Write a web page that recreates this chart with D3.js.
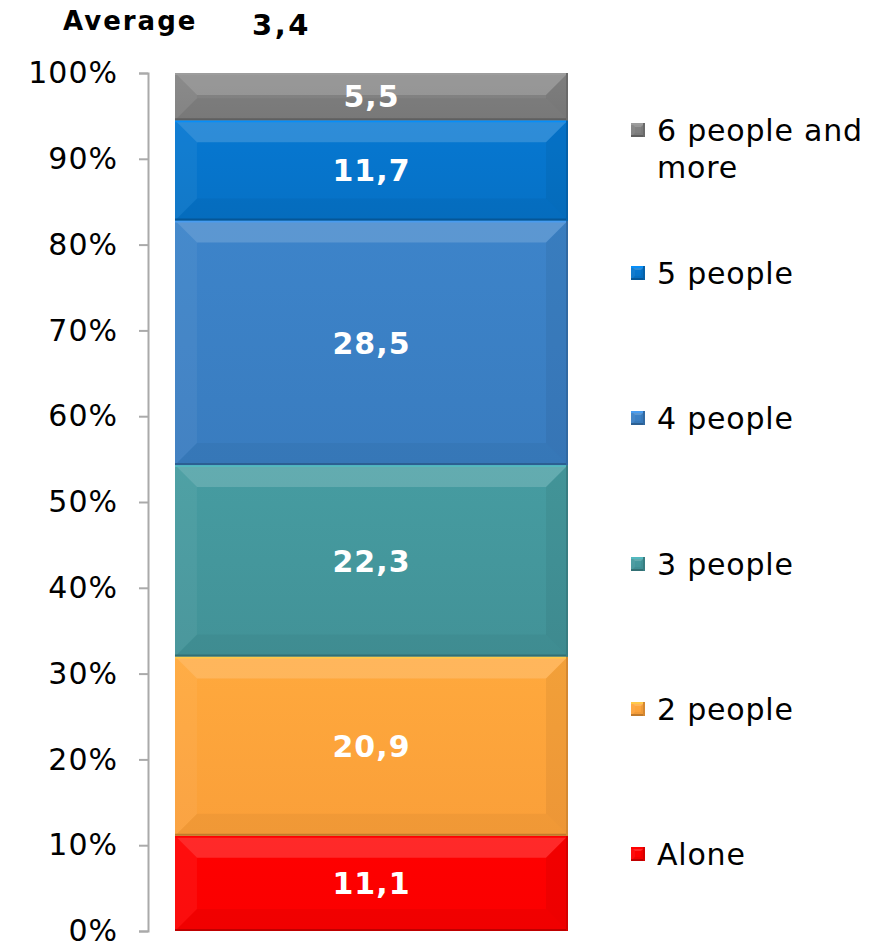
<!DOCTYPE html>
<html>
<head>
<meta charset="utf-8">
<script src="https://cdn.jsdelivr.net/npm/d3@7"></script>
<style>
  body { margin: 0; background: #fff; }
  text { font-family: "DejaVu Sans", Verdana, sans-serif; }
</style>
</head>
<body>
<svg width="892" height="947"></svg>
<script>
// data
const categories = ["Alone", "2 people", "3 people", "4 people", "5 people", "6 people and more"];
const values = [11.1, 20.9, 22.3, 28.5, 11.7, 5.5];
const yTicks = [0, 10, 20, 30, 40, 50, 60, 70, 80, 90, 100];
const averageLabel = "Average";
const averageValue = "3,4";

const colors = ["#fe0000", "#ffa23a", "#43959a", "#3a7ec2", "#0673c9", "#7f7f7f"];

const svg = d3.select("svg"),
      margin = {top: 73, right: 20, bottom: 16, left: 148},
      height = +svg.attr("height") - margin.top - margin.bottom;

const chartArea = svg.append("g")
                     .attr("transform", `translate(${margin.left},${margin.top})`);

const y = d3.scaleLinear().domain([0, 100]).range([height, 0]);
const x = d3.scaleBand().domain(["total"]).range([0, 447]).paddingInner(0).paddingOuter(0.0687);

// stack
let cum = 0;
const segs = values.map((v, i) => {
  const s = {key: categories[i], value: v, y0: cum, y1: cum + v, color: colors[i]};
  cum += v;
  return s;
});

// axis
const yAxis = chartArea.append("g")
  .call(d3.axisLeft(y).tickValues(yTicks).tickFormat(d => d + "%").tickSize(9).tickPadding(21));
yAxis.select(".domain").attr("stroke", "#aaa").attr("stroke-width", 2);
yAxis.selectAll(".tick line").attr("stroke", "#aaa").attr("stroke-width", 2);
yAxis.selectAll(".tick text")
  .attr("font-size", 30)
  .attr("letter-spacing", 1)
  .attr("fill", "#000")
  .attr("font-family", "DejaVu Sans, Verdana, sans-serif");

const defs = svg.append("defs");

function bevel(g, x0, y0, w, h, color, bmax) {
  const b = Math.min(bmax, h / 2, w / 2);
  const c = d3.color(color);
  const gid = "g" + Math.random().toString(36).slice(2);
  const grad = defs.append("linearGradient").attr("id", gid)
    .attr("x1", 0).attr("y1", 0).attr("x2", 0).attr("y2", 1);
  grad.append("stop").attr("offset", 0).attr("stop-color", c.brighter(0.12));
  grad.append("stop").attr("offset", 1).attr("stop-color", c.darker(0.05));

  g.append("rect").attr("x", x0).attr("y", y0).attr("width", w).attr("height", h)
    .attr("fill", `url(#${gid})`);
  const x1 = x0 + w, y1 = y0 + h;
  const pts = a => a.map(p => p.join(",")).join(" ");
  // top
  g.append("polygon").attr("points", pts([[x0, y0], [x1, y0], [x1 - b, y0 + b], [x0 + b, y0 + b]]))
    .attr("fill", "#fff").attr("opacity", 0.16);
  // left
  g.append("polygon").attr("points", pts([[x0, y0], [x0 + b, y0 + b], [x0 + b, y1 - b], [x0, y1]]))
    .attr("fill", "#fff").attr("opacity", 0.05);
  // right
  g.append("polygon").attr("points", pts([[x1, y0], [x1 - b, y0 + b], [x1 - b, y1 - b], [x1, y1]]))
    .attr("fill", "#000").attr("opacity", 0.05);
  // bottom
  g.append("polygon").attr("points", pts([[x0, y1], [x0 + b, y1 - b], [x1 - b, y1 - b], [x1, y1]]))
    .attr("fill", "#000").attr("opacity", 0.04);
  // edge lines
  g.append("line").attr("x1", x0).attr("x2", x1).attr("y1", y0 + 1).attr("y2", y0 + 1)
    .attr("stroke", c.brighter(0.6)).attr("stroke-width", 2);
  g.append("line").attr("x1", x0).attr("x2", x1).attr("y1", y1 - 1).attr("y2", y1 - 1)
    .attr("stroke", c.darker(0.8)).attr("stroke-width", 2);
  g.append("line").attr("x1", x1 - 1).attr("x2", x1 - 1).attr("y1", y0).attr("y2", y1)
    .attr("stroke", c.darker(0.5)).attr("stroke-width", 2);
}

const bx = x("total"), bw = x.bandwidth();
const bars = chartArea.selectAll(".seg").data(segs).enter().append("g").attr("class", "seg");
bars.each(function(d) {
  bevel(d3.select(this), bx, y(d.y1), bw, y(d.y0) - y(d.y1), d.color, 22);
});

chartArea.selectAll(".lbl").data(segs).enter().append("text")
  .attr("class", "lbl")
  .attr("x", bx + bw / 2)
  .attr("y", d => (y(d.y0) + y(d.y1)) / 2)
  .attr("dy", "0.36em")
  .attr("text-anchor", "middle")
  .attr("font-size", 30)
  .attr("letter-spacing", 1)
  .attr("font-weight", "bold")
  .attr("fill", "#fff")
  .text(d => d3.format(".1f")(d.value).replace(".", ","));

// legend
const legendY = [854, 709, 564, 418, 273, 130];
const legend = svg.selectAll(".leg").data(segs).enter().append("g")
  .attr("class", "leg")
  .attr("transform", (d, i) => `translate(631,${legendY[i]})`);
legend.each(function(d) {
  bevel(d3.select(this), 0, -7, 14, 14, d.color, 4);
});
legend.append("text")
  .attr("x", 26)
  .attr("y", 0)
  .attr("font-size", 30)
  .attr("letter-spacing", 0.8)
  .attr("fill", "#000")
  .each(function(d) {
    const t = d3.select(this);
    const words = d.key === "6 people and more" ? ["6 people and", "more"] : [d.key];
    words.forEach((w, i) => t.append("tspan").attr("x", 26).attr("dy", i === 0 ? "0.36em" : "1.23em").text(w));
  });

// average
svg.append("text").attr("x", 63).attr("y", 30).attr("font-size", 26).attr("font-weight", "bold")
  .attr("letter-spacing", 2)
  .text(averageLabel);
svg.append("text").attr("x", 252).attr("y", 35).attr("font-size", 29).attr("font-weight", "bold")
  .attr("letter-spacing", 2.5)
  .text(averageValue);
</script>
</body>
</html>
